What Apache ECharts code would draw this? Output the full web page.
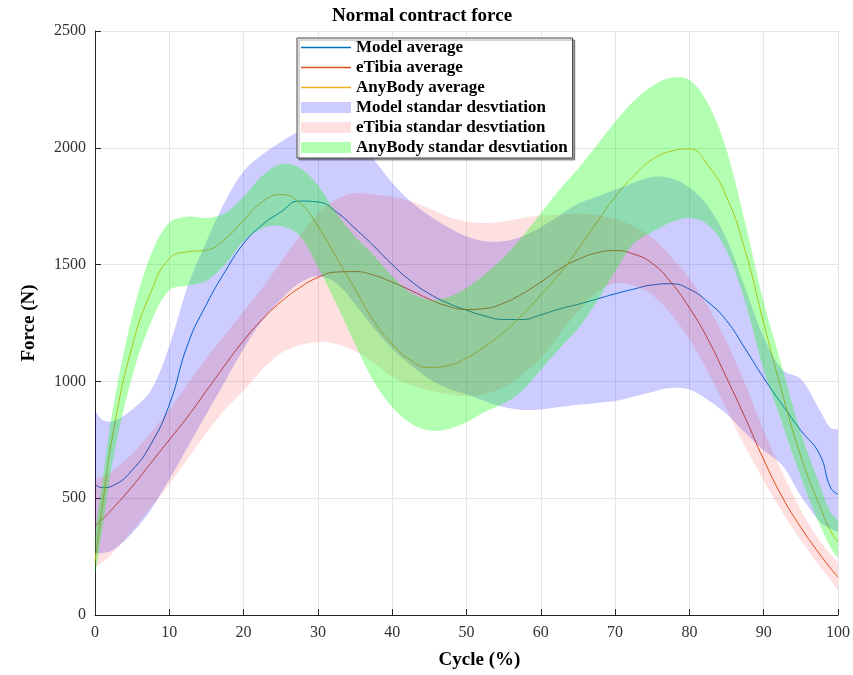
<!DOCTYPE html>
<html>
<head>
<meta charset="utf-8">
<script src="https://cdn.jsdelivr.net/npm/echarts@6/dist/echarts.min.js"></script>
<style>
  html, body { margin: 0; padding: 0; background: #fff; }
  #chart { width: 853px; height: 675px; }
</style>
</head>
<body>
<div id="chart"></div>
<script>
// cycle (%) sample points
const cycle = [0, 1, 2.5, 5, 7.5, 10, 12.5, 15, 17.5, 20,
  22.5, 25, 27.5, 30, 32.5, 35, 37.5, 40, 42.5, 45,
  47.5, 50, 52.5, 55, 57.5, 60, 62.5, 65, 67.5, 70,
  72.5, 75, 77.5, 80, 82.5, 85, 87.5, 90, 92.5, 95,
  97.5, 99, 100];

// averages (N)
const modelAvg = [560, 545, 555, 620, 730, 900, 1160, 1330, 1470, 1590,
  1670, 1725, 1772, 1768, 1725, 1655, 1580, 1500, 1430, 1375,
  1335, 1305, 1280, 1265, 1265, 1285, 1310, 1330, 1352, 1375,
  1395, 1413, 1418, 1395, 1340, 1260, 1140, 1015, 900, 790,
  690, 545, 517];
const eTibiaAvg = [382, 410, 460, 550, 650, 750, 850, 960, 1070, 1175,
  1265, 1340, 1400, 1445, 1468, 1470, 1455, 1425, 1390, 1352,
  1322, 1308, 1312, 1335, 1375, 1425, 1480, 1522, 1550, 1560,
  1545, 1505, 1425, 1315, 1180, 1015, 845, 665, 505, 375,
  262, 200, 162];
const anyBodyAvg = [230, 470, 790, 1150, 1380, 1525, 1555, 1562, 1610, 1690,
  1768, 1800, 1765, 1665, 1530, 1395, 1260, 1160, 1090, 1060,
  1068, 1100, 1150, 1210, 1285, 1370, 1460, 1565, 1680, 1790,
  1880, 1950, 1985, 1995, 1925, 1790, 1560, 1250, 950, 680,
  470, 360, 312];

// standard deviation bands (lower / upper edge, N)
const modelLow = [270, 265, 280, 350, 450, 580, 720, 860, 1000, 1140,
  1260, 1350, 1420, 1450, 1420, 1330, 1230, 1140, 1070, 1010,
  970, 945, 915, 890, 878, 880, 890, 900, 908, 916,
  935, 955, 972, 965, 920, 860, 780, 705, 640, 510,
  400, 370, 360];
const modelHigh = [866, 835, 830, 880, 960, 1150, 1410, 1600, 1770, 1900,
  1970, 2025, 2070, 2085, 2075, 2030, 1950, 1850, 1770, 1710,
  1660, 1620, 1600, 1600, 1620, 1660, 1710, 1760, 1790, 1820,
  1850, 1875, 1870, 1830, 1750, 1610, 1400, 1190, 1050, 1010,
  880, 800, 790];
const eTibiaLow = [211, 225, 270, 360, 460, 560, 670, 780, 880, 960,
  1050, 1120, 1155, 1168, 1160, 1130, 1080, 1020, 985, 962,
  945, 937, 945, 975, 1030, 1100, 1200, 1300, 1380, 1420,
  1410, 1370, 1290, 1180, 1040, 880, 720, 575, 440, 320,
  210, 150, 110];
const eTibiaHigh = [580, 590, 620, 690, 780, 880, 990, 1100, 1200, 1300,
  1400, 1510, 1620, 1720, 1780, 1805, 1800, 1790, 1770, 1740,
  1705, 1685, 1678, 1685, 1700, 1710, 1715, 1718, 1712, 1695,
  1665, 1615, 1535, 1440, 1320, 1170, 990, 790, 610, 450,
  320, 260, 220];
const anyBodyLow = [180, 370, 680, 1020, 1250, 1390, 1410, 1430, 1500, 1600,
  1655, 1665, 1625, 1490, 1330, 1160, 1000, 890, 820, 790,
  795, 825, 870, 905, 960, 1050, 1140, 1225, 1340, 1470,
  1590, 1640, 1680, 1700, 1670, 1560, 1340, 1050, 820, 590,
  390, 290, 250];
const anyBodyHigh = [330, 570, 900, 1280, 1540, 1680, 1705, 1700, 1720, 1790,
  1880, 1930, 1915, 1840, 1720, 1620, 1540, 1450, 1380, 1350,
  1360, 1400, 1460, 1530, 1620, 1720, 1820, 1910, 2010, 2110,
  2200, 2265, 2300, 2290, 2190, 1990, 1680, 1340, 1060, 780,
  560, 440, 400];

const serif = '"Liberation Serif", "DejaVu Serif", serif';
const lineIcon = 'path://M0,0h50v1.3h-50z';

function avgLine(name, vals, color) {
  return {
    name, type: 'line', data: cycle.map((x, i) => [x, vals[i]]),
    symbol: 'none', smooth: true,
    lineStyle: { color, width: 1 }, itemStyle: { color }, z: 2
  };
}

// one filled polygon per band: upper edge left->right, lower edge back
function band(name, low, high, color) {
  return {
    name, type: 'custom', clip: true, silent: true, z: 3,
    data: cycle.map((x, i) => [x, low[i], high[i]]),
    encode: { x: 0, y: [1, 2] },
    itemStyle: { color },
    renderItem(params, api) {
      if (params.dataIndexInside !== 0) return null;
      const top = [], bottom = [];
      for (let i = 0; i < params.dataInsideLength; i++) {
        top.push(api.coord([api.value(0, i), api.value(2, i)]));
        bottom.push(api.coord([api.value(0, i), api.value(1, i)]));
      }
      return {
        type: 'polygon',
        shape: { points: top.concat(bottom.reverse()), smooth: 0.35 },
        style: { fill: color }
      };
    }
  };
}

const blue = '#0072BD', red = '#D95319', yellow = '#EDB120';
const blueBand = 'rgba(0,0,255,0.2)', redBand = 'rgba(255,0,0,0.12)', greenBand = 'rgba(0,255,0,0.3)';

const chart = echarts.init(document.getElementById('chart'));
chart.setOption({
  animation: false,
  title: {
    text: 'Normal contract force', left: 332, top: 7, padding: 0,
    textStyle: { fontFamily: serif, fontWeight: 'bold', fontSize: 19, color: '#000' }
  },
  legend: {
    orient: 'vertical', left: 297, top: 38, padding: [1, 5, 2, 4],
    itemWidth: 50, itemHeight: 11, itemGap: 3, selectedMode: false,
    backgroundColor: '#fff', borderColor: '#444', borderWidth: 1,
    shadowColor: 'rgba(0,0,0,0.35)', shadowOffsetX: 2, shadowOffsetY: 2, shadowBlur: 1,
    textStyle: { fontFamily: serif, fontWeight: 'bold', fontSize: 17, color: '#000', lineHeight: 16 },
    data: [
      { name: 'Model average', icon: lineIcon },
      { name: 'eTibia average', icon: lineIcon },
      { name: 'AnyBody average', icon: lineIcon },
      { name: 'Model standar desvtiation', icon: 'rect', itemStyle: { color: blueBand } },
      { name: 'eTibia standar desvtiation', icon: 'rect', itemStyle: { color: redBand } },
      { name: 'AnyBody standar desvtiation', icon: 'rect', itemStyle: { color: greenBand } }
    ]
  },
  grid: { left: 95, right: 13, top: 31, bottom: 59 },
  xAxis: {
    type: 'value', min: 0, max: 100, interval: 10,
    name: 'Cycle (%)', nameLocation: 'middle', nameGap: 36,
    nameTextStyle: { fontFamily: serif, fontWeight: 'bold', fontSize: 19, color: '#000', padding: [0, 0, 0, 26] },
    axisLine: { lineStyle: { color: '#262626' } },
    axisTick: { inside: true, length: 6, lineStyle: { color: '#262626' } },
    axisLabel: { fontFamily: serif, fontSize: 16, color: '#333', margin: 10, formatter: v => String(v) },
    splitLine: { show: true, lineStyle: { color: '#e6e6e6' } }
  },
  yAxis: {
    type: 'value', min: 0, max: 2500, interval: 500,
    name: 'Force (N)', nameLocation: 'middle', nameGap: 56,
    nameTextStyle: { fontFamily: serif, fontWeight: 'bold', fontSize: 19, color: '#000' },
    axisLine: { show: true, lineStyle: { color: '#262626' } },
    axisTick: { show: true, inside: true, length: 6, lineStyle: { color: '#262626' } },
    axisLabel: { fontFamily: serif, fontSize: 16, color: '#333', margin: 9, formatter: v => String(v) },
    splitLine: { show: true, lineStyle: { color: '#e6e6e6' } }
  },
  series: [
    avgLine('Model average', modelAvg, blue),
    avgLine('eTibia average', eTibiaAvg, red),
    avgLine('AnyBody average', anyBodyAvg, yellow),
    band('Model standar desvtiation', modelLow, modelHigh, blueBand),
    band('eTibia standar desvtiation', eTibiaLow, eTibiaHigh, redBand),
    band('AnyBody standar desvtiation', anyBodyLow, anyBodyHigh, greenBand)
  ]
});
</script>
</body>
</html>
